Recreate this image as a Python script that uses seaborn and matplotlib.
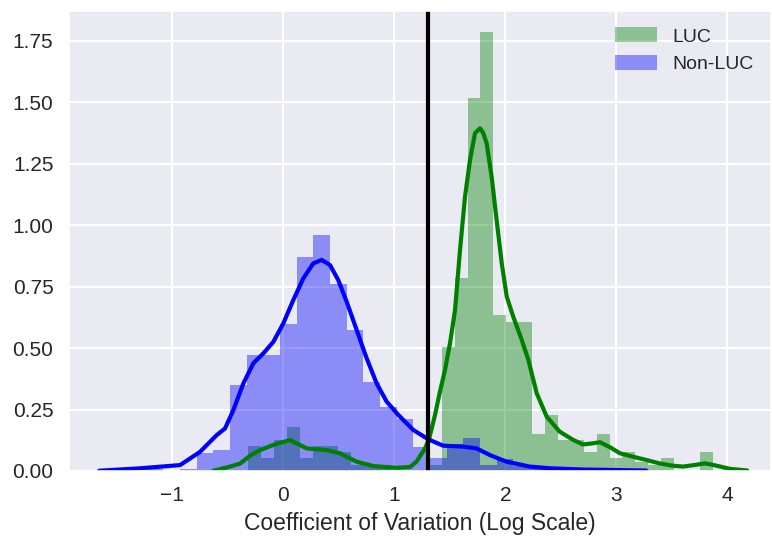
import numpy as np
import pandas as pd
import seaborn as sns
import matplotlib
matplotlib.use("Agg")
import matplotlib.pyplot as plt

# ---------------- data ----------------
# LUC histogram (density), uniform bins
luc_bin_start = -0.317
luc_bin_width = 0.1163
luc_heights = [0.102, 0.051, 0.126, 0.179, 0.051, 0.102, 0.102, 0.076, 0.025, 0.025,
               0.025, 0.0, 0.0, 0.0, 0.025, 0.506, 0.784, 1.518, 1.786, 0.633,
               0.607, 0.607, 0.152, 0.228, 0.126, 0.126, 0.076, 0.152, 0.051, 0.076,
               0.038, 0.025, 0.051, 0.0, 0.0, 0.076]

# Non-LUC histogram (density), uniform bins
nonluc_bin_start = -1.230
nonluc_bin_width = 0.1501
nonluc_heights = [0.010, 0.0, 0.010, 0.072, 0.085, 0.350, 0.472, 0.472, 0.598, 0.871,
                  0.959, 0.760, 0.573, 0.363, 0.262, 0.211, 0.099, 0.052, 0.108, 0.133,
                  0.024, 0.049, 0.020, 0.010, 0.007, 0.0, 0.007, 0.007]

# KDE curves
luc_kde_x = [-0.63, -0.48, -0.39, -0.30, -0.21, -0.09, 0.06, 0.21, 0.39, 0.51, 0.66, 0.81,
             1.02, 1.14, 1.20, 1.277, 1.315, 1.367, 1.41, 1.457, 1.502, 1.547, 1.592, 1.637,
             1.682, 1.727, 1.772, 1.80, 1.832, 1.877, 1.922, 1.968, 2.013, 2.072, 2.148,
             2.208, 2.283, 2.373, 2.49, 2.613, 2.70, 2.78, 2.853, 2.95, 3.033, 3.15, 3.27,
             3.39, 3.50, 3.60, 3.70, 3.80, 3.90, 4.02, 4.18]
luc_kde_y = [0.001, 0.018, 0.030, 0.062, 0.085, 0.106, 0.126, 0.092, 0.085, 0.072, 0.038,
             0.020, 0.013, 0.016, 0.038, 0.092, 0.133, 0.228, 0.32, 0.411, 0.52, 0.654,
             0.898, 1.115, 1.264, 1.373, 1.393, 1.375, 1.332, 1.196, 1.020, 0.844, 0.709,
             0.627, 0.533, 0.451, 0.316, 0.221, 0.160, 0.126, 0.108, 0.112, 0.117, 0.095,
             0.072, 0.058, 0.045, 0.031, 0.022, 0.018, 0.024, 0.031, 0.022, 0.009, 0.002]

nonluc_kde_x = [-1.66, -1.29, -0.93, -0.75, -0.60, -0.525, -0.450, -0.360, -0.270, -0.180,
                -0.090, 0.0, 0.090, 0.180, 0.270, 0.346, 0.421, 0.495, 0.571, 0.661, 0.751,
                0.841, 0.931, 1.036, 1.17, 1.31, 1.44, 1.62, 1.74, 1.86, 2.01, 2.22, 2.40,
                2.70, 3.00, 3.27]
nonluc_kde_y = [0.001, 0.011, 0.024, 0.078, 0.146, 0.173, 0.248, 0.356, 0.438, 0.478,
                0.525, 0.600, 0.695, 0.783, 0.844, 0.858, 0.837, 0.776, 0.688, 0.573, 0.458,
                0.356, 0.282, 0.228, 0.167, 0.128, 0.103, 0.099, 0.092, 0.065, 0.038, 0.018,
                0.011, 0.006, 0.004, 0.002]

threshold = 1.3
labels = ["LUC", "Non-LUC"]
xlabel = "Coefficient of Variation (Log Scale)"
luc_color = (0.0, 0.5, 0.0)
nonluc_color = (0.0, 0.0, 1.0)

# ---------------- style ----------------
sns.set_theme(style="darkgrid", context="talk")
plt.rcParams["font.family"] = ["Liberation Sans", "DejaVu Sans"]

fig = plt.figure(figsize=(7.72, 5.39), dpi=100)
ax = fig.add_axes([68 / 772, 68 / 539, 703 / 772, 461 / 539])


def hist_frame(start, width, heights):
    n = len(heights)
    edges = start + width * np.arange(n + 1)
    centers = (edges[:-1] + edges[1:]) / 2
    return [float(e) for e in edges], pd.DataFrame({"x": centers, "w": heights})


luc_edges, luc_df = hist_frame(luc_bin_start, luc_bin_width, luc_heights)
non_edges, non_df = hist_frame(nonluc_bin_start, nonluc_bin_width, nonluc_heights)

sns.histplot(data=luc_df, x="x", weights="w", bins=luc_edges, stat="count",
             color=luc_color, alpha=0.4, linewidth=0, ax=ax, label=labels[0])
sns.lineplot(x=luc_kde_x, y=luc_kde_y, color=luc_color, lw=3, ax=ax,
             solid_joinstyle="round", solid_capstyle="round")

sns.histplot(data=non_df, x="x", weights="w", bins=non_edges, stat="count",
             color=nonluc_color, alpha=0.4, linewidth=0, ax=ax, label=labels[1])
sns.lineplot(x=nonluc_kde_x, y=nonluc_kde_y, color=nonluc_color, lw=3, ax=ax,
             solid_joinstyle="round", solid_capstyle="round")

ax.axvline(threshold, color=(0, 0, 0), lw=3)

ax.set_xlim(-1.94, 4.394)
ax.set_ylim(0, 1.874)
ax.set_yticks(np.arange(0, 1.76, 0.25))
ax.set_xticks(np.arange(-1, 5, 1))
ax.set_ylabel("")
ax.set_xlabel(xlabel, fontsize=16.5, labelpad=5)
ax.tick_params(axis="both", labelsize=15, pad=10.5, length=0)

ax.legend(loc="upper right", frameon=False, fontsize=14, handlelength=2.15,
          handleheight=0.77)

fig.savefig("out.png", dpi=100)
